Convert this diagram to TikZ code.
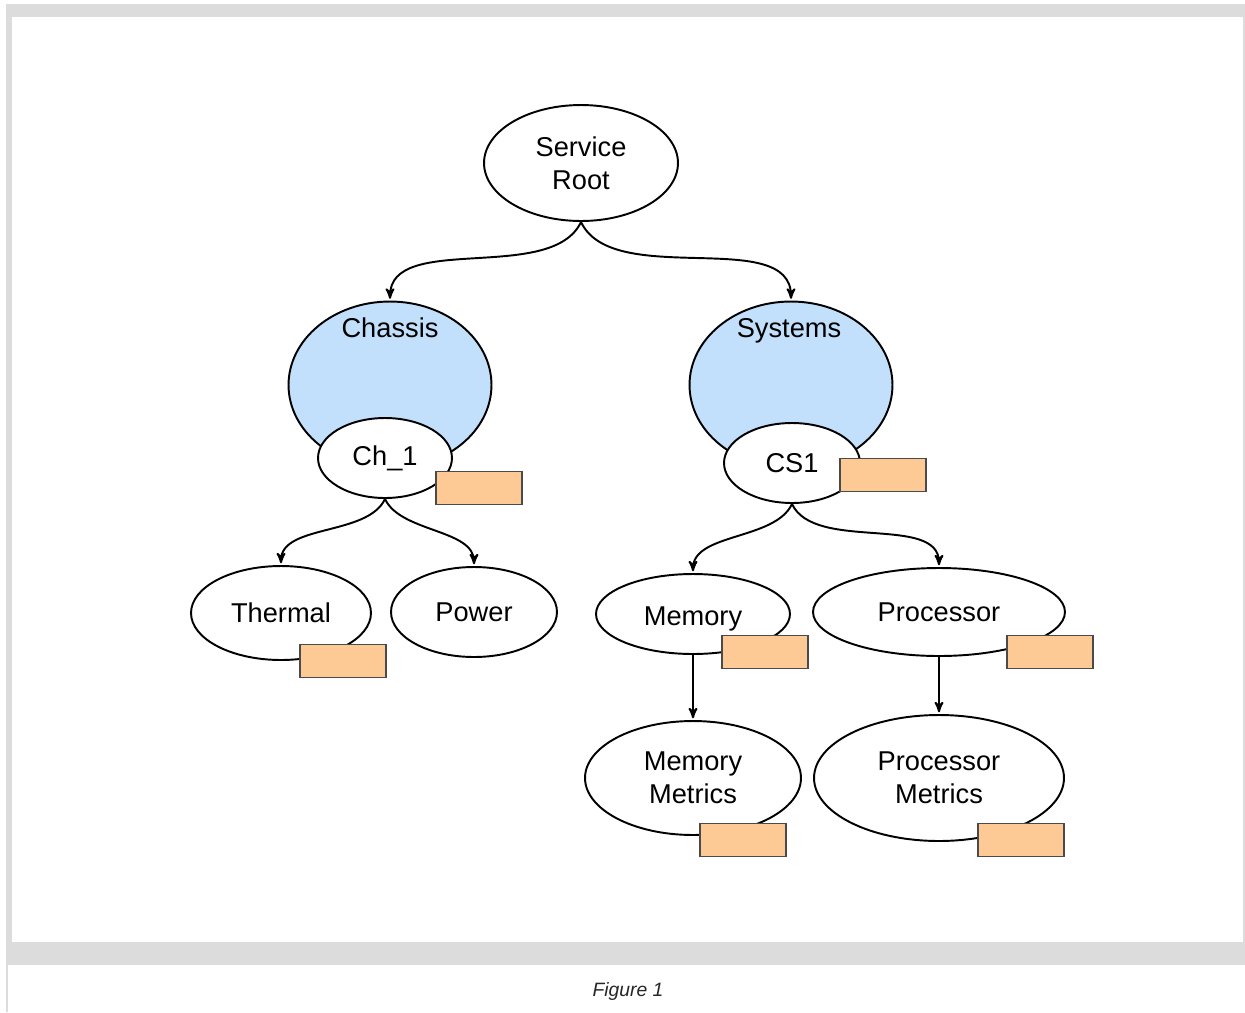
\documentclass[tikz,border=0pt]{standalone}
\usepackage{fontspec}
\setmainfont{Liberation Sans}
\usetikzlibrary{arrows,shapes.geometric}
\definecolor{pagegray}{HTML}{DCDCDC}
\definecolor{setblue}{HTML}{C2E0FB}
\definecolor{tagorange}{HTML}{FDCA96}
\definecolor{tagedge}{HTML}{4A4A4A}

\begin{document}
\begin{tikzpicture}[x=0.02cm,y=-0.02cm,>=stealth',line width=1.1pt]
 \tikzstyle{res}=[ellipse,draw,fill=white,inner sep=0pt,align=center,
  font=\fontsize{15.5}{18.7}\selectfont]
 \tikzstyle{coll}=[res,fill=setblue]
 \tikzstyle{tag}=[draw=tagedge,fill=tagorange,line width=0.7pt,inner sep=0pt,
  minimum width=1.72cm,minimum height=0.66cm]
 \tikzstyle{link}=[->,shorten >=1pt,looseness=0.85]

 % page frame
 \fill[white] (0,0) rectangle (1245,1012);
 \fill[pagegray] (6,4) rectangle (1245,965);
 \fill[white] (12,17) rectangle (1243,942);
 \fill[pagegray] (6,965) rectangle (8,1012);
 \node[font=\fontsize{11}{13}\itshape,text=black!85] (cap) at (628,991) {Figure 1};

 \node[res,minimum width=3.88cm,minimum height=2.32cm] (root) at (581,163) {Service\\Root};

 \node[coll,minimum width=4.06cm,minimum height=3.34cm] (chassis) at (390,385) {};
 \node[font=\fontsize{15.5}{18.7}\selectfont] (chassislbl) at (390,328) {Chassis};
 \node[res,minimum width=2.68cm,minimum height=1.6cm] (ch1) at (385,458) {Ch\_1};
 \node[tag] (ch1tag) at (479,488) {};

 \node[coll,minimum width=4.06cm,minimum height=3.34cm] (systems) at (791,385) {};
 \node[font=\fontsize{15.5}{18.7}\selectfont] (systemslbl) at (789,331) {Systems};
 \node[res,minimum width=2.72cm,minimum height=1.6cm] (cs1) at (792,463) {CS1};
 \node[tag] (cs1tag) at (883,475) {};

 \node[res,minimum width=3.6cm,minimum height=1.88cm] (thermal) at (281,613) {Thermal};
 \node[tag] (thermaltag) at (343,661) {};
 \node[res,minimum width=3.32cm,minimum height=1.8cm] (power) at (474,612) {Power};

 \node[res,minimum width=3.88cm,minimum height=1.6cm] (memory) at (693,614) {\raisebox{-0.09cm}[\height][\depth]{Memory}};
 \node[tag] (memorytag) at (765,652) {};
 \node[res,minimum width=5.04cm,minimum height=1.76cm] (proc) at (939,612) {Processor};
 \node[tag] (proctag) at (1050,652) {};

 \node[res,minimum width=4.32cm,minimum height=2.28cm] (memmet) at (693,778) {Memory\\Metrics};
 \node[tag] (memmettag) at (743,840) {};
 \node[res,minimum width=5cm,minimum height=2.52cm] (procmet) at (939,778) {Processor\\Metrics};
 \node[tag] (procmettag) at (1021,840) {};

 \path[link] (root.south) edge[out=-115,in=90] (chassis.north)
  edge[out=-65,in=90] (systems.north);
 \path[link] (ch1.south) edge[out=-115,in=90] (thermal.north)
  edge[out=-65,in=90] (power.north);
 \path[link] (cs1.south) edge[out=-115,in=90] (memory.north)
  edge[out=-65,in=90] (proc.north);
 \draw[link] (memory.south) -- (memmet.north);
 \draw[link] (proc.south) -- (procmet.north);
\end{tikzpicture}
\end{document}
